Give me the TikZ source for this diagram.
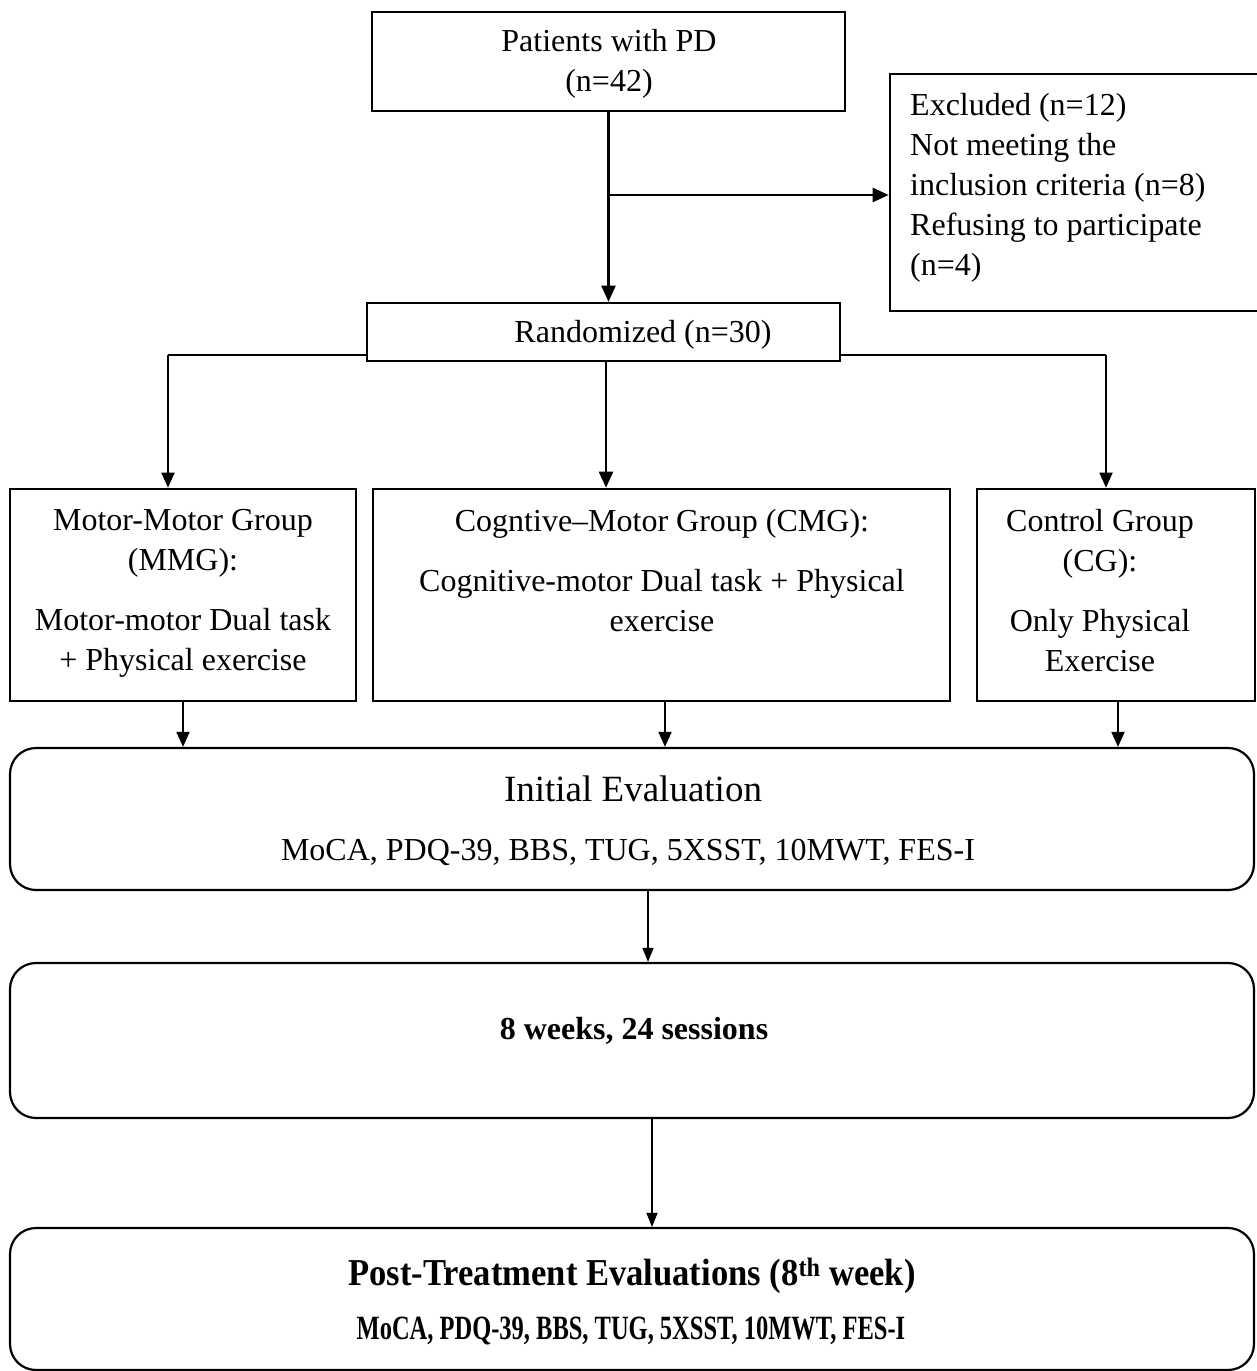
\documentclass[tikz,border=0pt]{standalone}
\usepackage{fontspec}
\setmainfont{Liberation Serif}
\usetikzlibrary{arrows.meta}
\begin{document}
\begin{tikzpicture}[x=1pt,y=-1pt,
  box/.style={draw, line width=2.6pt, inner sep=0pt, fill=white},
  rbox/.style={draw, line width=2.2pt, rounded corners=26pt, inner sep=0pt},
  txt/.style={font=\fontsize{32}{40}\selectfont, align=center, inner sep=0pt},
  arr/.style={-{Triangle[length=16pt,width=14pt]}, line width=2.4pt},
  marr/.style={-{Triangle[length=15pt,width=13pt]}, line width=1.8pt},
  tarr/.style={-{Triangle[length=14pt,width=11pt]}, line width=1.3pt},
]
\useasboundingbox (0,0) rectangle (1256,1371);
\fill[white] (0,0) rectangle (1256,1371);

% top
\node[box, minimum width=473pt, minimum height=99pt] (pd) at (608.5,61.5) {};
\node[txt] (pdt) at (609,64) {Patients with PD\\(n=42)};

\node[box, minimum width=372pt, minimum height=237pt] (exc) at (1076,192.5) {};
\node[txt, align=left, anchor=west] (exct) at (910,188) {Excluded (n=12)\\Not meeting the\\inclusion criteria (n=8)\\Refusing to participate\\(n=4)};

% branch lines from randomized (drawn before box)
\coordinate (lb) at (168,355);
\coordinate (rb) at (1106,355);
\draw[line width=1.3pt] (lb) -- (rb);

\node[box, minimum width=473pt, minimum height=58pt] (rand) at (603.5,332) {};
\node[txt] (randt) at (643,335) {Randomized (n=30)};

\coordinate (br) at (608.5,195);
\draw[arr] (pd.south) -- (pd.south |- rand.north);
\draw[arr] (br) -- (br -| exc.west);

% groups
\node[box, minimum width=346pt, minimum height=212pt] (mmg) at (183,595) {};
\node[box, minimum width=577pt, minimum height=212pt] (cmg) at (661.5,595) {};
\node[box, minimum width=278pt, minimum height=212pt] (cg) at (1116,595) {};

\node[txt] (mmgt) at (183,593) {Motor-Motor Group\\(MMG):\\[20pt]Motor-motor Dual task\\+ Physical exercise};
\node[txt] (cmgt) at (662,571) {Cogntive–Motor Group (CMG):\\[20pt]Cognitive-motor Dual task + Physical\\exercise};
\node[txt] (cgt) at (1100,591) {Control Group\\(CG):\\[20pt]Only Physical\\Exercise};

\draw[marr] (lb) -- (lb |- mmg.north);
\draw[marr] (rb) -- (rb |- cg.north);
\draw[arr] ([xshift=2.5pt]rand.south) -- ([xshift=2.5pt]rand.south |- cmg.north);

% rounded boxes
\node[rbox, minimum width=1244pt, minimum height=142pt] (init) at (632,819) {};
\node[txt, font=\fontsize{37}{44}\selectfont] (initt) at (633,789) {Initial Evaluation};
\node[txt] (initm) at (628,852) {MoCA, PDQ-39, BBS, TUG, 5XSST, 10MWT, FES-I};

\node[rbox, minimum width=1244pt, minimum height=155pt] (wk) at (632,1040.5) {};
\node[txt, font=\fontsize{32}{40}\selectfont\bfseries] (wkt) at (634,1031) {8 weeks, 24 sessions};

\node[rbox, minimum width=1244pt, minimum height=142pt] (post) at (632,1299) {};
\node[txt, font=\fontsize{38}{44}\selectfont\bfseries] (postt) at (632,1276) {\scalebox{0.91}[1]{Post-Treatment Evaluations (8\textsuperscript{th} week)}};
\node[txt, font=\fontsize{34}{40}\selectfont\bfseries] (postm) at (631,1331) {\scalebox{0.72}[1]{MoCA, PDQ-39, BBS, TUG, 5XSST, 10MWT, FES-I}};

\draw[marr] (mmg.south) -- (mmg.south |- init.north);
\draw[marr] ([xshift=3.5pt]cmg.south) -- ([xshift=3.5pt]cmg.south |- init.north);
\draw[marr] ([xshift=2pt]cg.south) -- ([xshift=2pt]cg.south |- init.north);

\draw[tarr] ([xshift=16pt]init.south) -- ([xshift=16pt]wk.north);
\draw[tarr] ([xshift=20pt]wk.south) -- ([xshift=20pt]post.north);
\end{tikzpicture}
\end{document}
